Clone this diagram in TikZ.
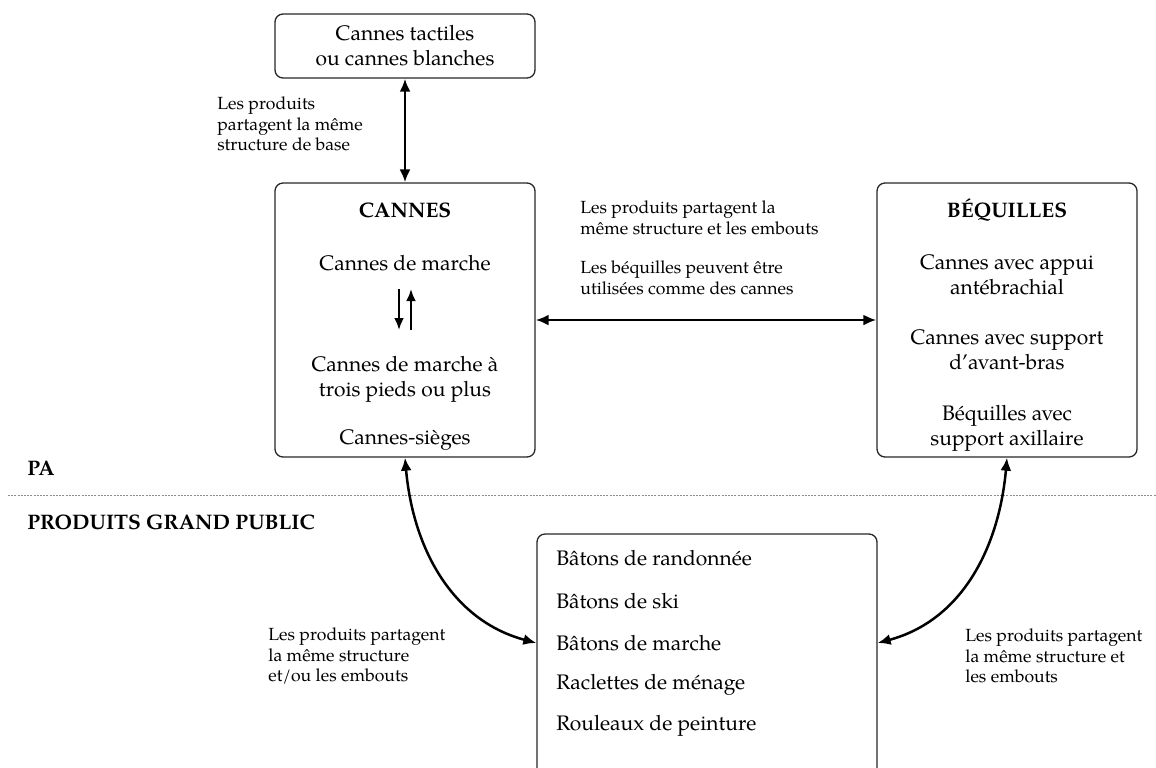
\documentclass[tikz,border=0pt]{standalone}
\usepackage{fontspec}
\setmainfont{texgyrepagella}[Extension=.otf,UprightFont=*-regular,BoldFont=*-bold,ItalicFont=*-italic,BoldItalicFont=*-bolditalic]
\usetikzlibrary{arrows.meta}

\tikzset{
  box/.style={draw=black!85, line width=0.65pt, rounded corners=4pt},
  item/.style={font=\fontsize{10.5}{12.5}\selectfont, align=center, inner sep=0pt},
  note/.style={font=\fontsize{8.8}{10.3}\selectfont, align=left, inner sep=0pt, anchor=west},
  tag/.style={font=\bfseries\fontsize{10.5}{12.5}\selectfont, anchor=west, inner sep=0pt},
  link/.style={line width=1.25pt, {Latex[length=6.5pt,width=5.5pt]}-{Latex[length=6.5pt,width=5.5pt]}},
  swap/.style={line width=1.2pt, -{Latex[length=6pt,width=5pt]}},
}

\begin{document}
\begin{tikzpicture}[x=0.5pt, y=-0.5pt]
  \clip (0,0) rectangle (1156,767);

  % Boxes
  \node[box, item, minimum width=130pt, minimum height=32pt] (tactile) at (405,46)
    {Cannes tactiles\\ou cannes blanches};
  \node[box, minimum width=130pt, minimum height=137pt] (cannes) at (405,320) {};
  \node[box, minimum width=130pt, minimum height=137pt] (bequilles) at (1007,320) {};
  \node[box, minimum width=170pt, minimum height=122pt] (grand) at (707,656) {};

  % Cannes
  \node[item, font=\bfseries\fontsize{10.5}{12.5}\selectfont] (cannestitle) at (405,210) {CANNES};
  \node[item] (marche) at (405,263) {Cannes de marche};
  \node[item] (tripod) at (405,379) {Cannes de marche à\\trois pieds ou plus};
  \node[item] (siege) at (405,440) {Cannes-sièges};
  \coordinate (dntop) at (399,289);
  \coordinate (dnbot) at (399,330);
  \coordinate (uptop) at (411,289);
  \coordinate (upbot) at (411,330);
  \draw[swap] (dntop) -- (dnbot);
  \draw[swap] (upbot) -- (uptop);

  % Bequilles
  \node[item, font=\bfseries\fontsize{10.5}{12.5}\selectfont] (beqtitle) at (1007,210) {BÉQUILLES};
  \node[item] (appui) at (1007,275) {Cannes avec appui\\antébrachial};
  \node[item] (avantbras) at (1007,350) {Cannes avec support\\d’avant-bras};
  \node[item] (axillaire) at (1007,428) {Béquilles avec\\support axillaire};

  % Grand public
  \node[item, anchor=west] (randonnee) at (556,558) {Bâtons de randonnée};
  \node[item, anchor=west] (ski) at (556,601) {Bâtons de ski};
  \node[item, anchor=west] (batmarche) at (556,643) {Bâtons de marche};
  \node[item, anchor=west] (raclette) at (556,685) {Raclettes de ménage};
  \node[item, anchor=west] (rouleau) at (556,726) {Rouleaux de peinture};

  % Zones
  \node[tag] (pa) at (27,468) {PA};
  \node[tag] (public) at (27,522) {PRODUITS GRAND PUBLIC};
  \draw[black!45, line width=0.5pt, dash pattern=on 1pt off 0.6pt] (8,495) -- (1156,495);

  % Links
  \draw[link] (tactile) -- (cannes);
  \draw[link] (cannes) -- (bequilles);
  \draw[link] (cannes.south) to[out=-85, in=165] (grand.west |- batmarche);
  \draw[link] (bequilles.south) to[out=-95, in=15] (grand.east |- batmarche);

  % Notes
  \node[note] (basenote) at (217,124) {Les produits\\partagent la même\\structure de base};
  \node[note] (embnote) at (580,218) {Les produits partagent la\\même structure et les embouts};
  \node[note] (usenote) at (580,278) {Les béquilles peuvent être\\utilisées comme des cannes};
  \node[note] (leftnote) at (268,656) {Les produits partagent\\la même structure\\et/ou les embouts};
  \node[note] (rightnote) at (965,656) {Les produits partagent\\la même structure et\\les embouts};
\end{tikzpicture}
\end{document}
